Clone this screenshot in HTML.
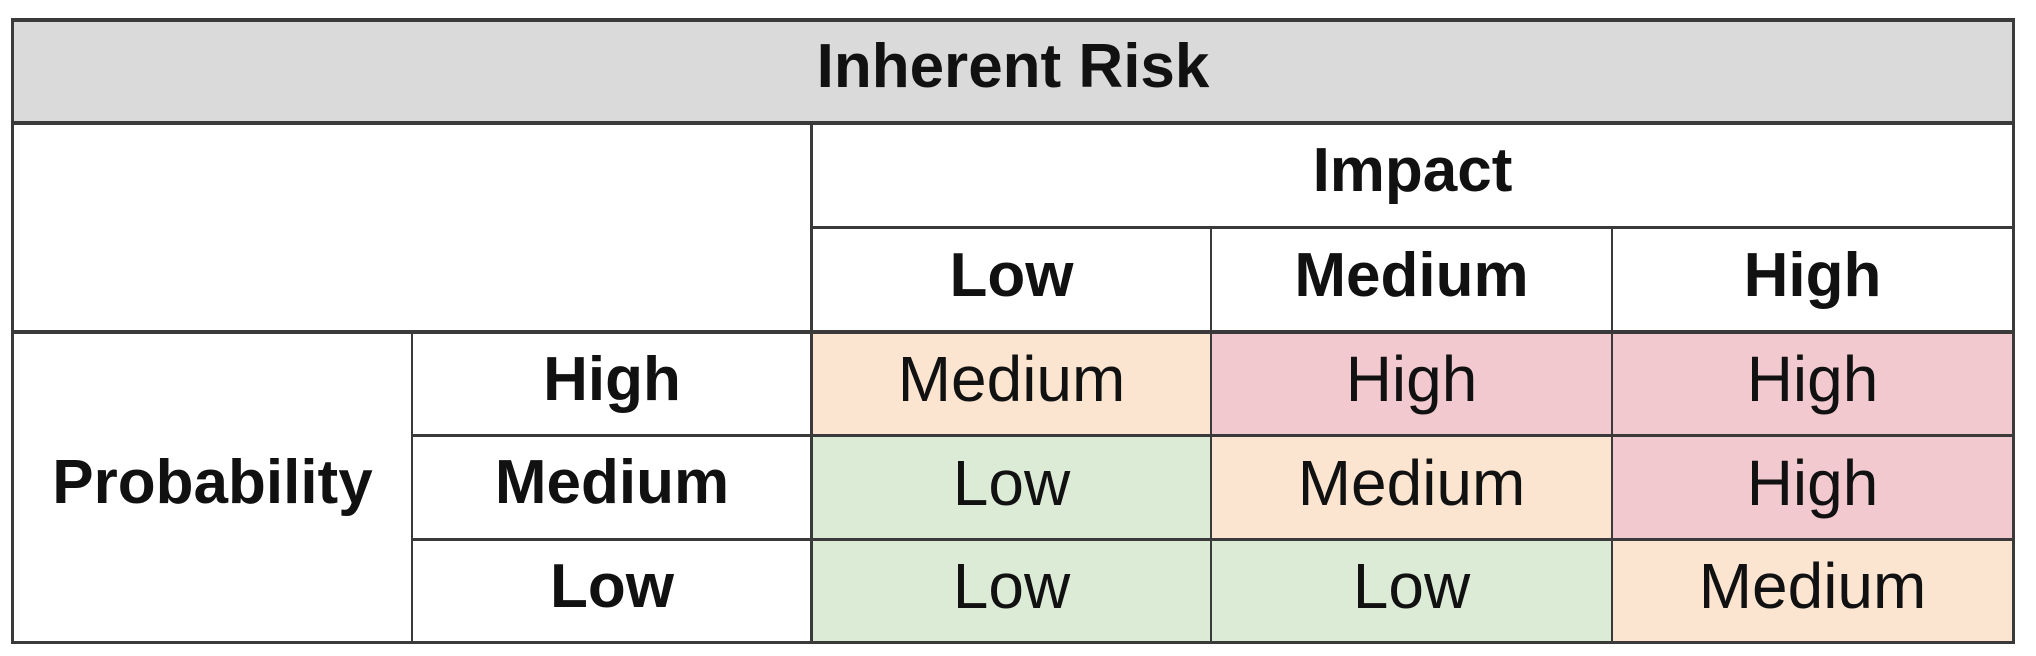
<!DOCTYPE html>
<html><head><meta charset="utf-8"><style>
body{margin:0;width:2036px;height:656px;background:#fff;position:relative;overflow:hidden;font-family:"Liberation Sans",Arial,sans-serif;}
.c{position:absolute;box-sizing:border-box;display:flex;align-items:center;justify-content:center;font-size:64px;color:#111;padding-bottom:10px;}
.b{font-weight:bold;font-size:62px;}
.h{position:absolute;background:#3a3a3a;}
</style></head><body>
<div class="c b" style="left:13px;top:19px;width:2000px;height:104px;background:#dadada;">Inherent Risk</div>
<div class="c b" style="left:812px;top:123px;width:1201px;height:105px;">Impact</div>
<div class="c b" style="left:812px;top:228px;width:399px;height:104px;">Low</div>
<div class="c b" style="left:1211px;top:228px;width:401px;height:104px;">Medium</div>
<div class="c b" style="left:1612px;top:228px;width:401px;height:104px;">High</div>
<div class="c b" style="left:13px;top:332px;width:399px;height:311px;">Probability</div>
<div class="c b" style="left:412px;top:332px;width:400px;height:104px;">High</div>
<div class="c b" style="left:412px;top:436px;width:400px;height:103px;">Medium</div>
<div class="c b" style="left:412px;top:539px;width:400px;height:104px;">Low</div>

<div class="c" style="left:812px;top:332px;width:399px;height:104px;background:#fbe5d1;">Medium</div>
<div class="c" style="left:1211px;top:332px;width:401px;height:104px;background:#f1c9cf;">High</div>
<div class="c" style="left:1612px;top:332px;width:401px;height:104px;background:#f1c9cf;">High</div>
<div class="c" style="left:812px;top:436px;width:399px;height:103px;background:#dcebd6;">Low</div>
<div class="c" style="left:1211px;top:436px;width:401px;height:103px;background:#fbe5d1;">Medium</div>
<div class="c" style="left:1612px;top:436px;width:401px;height:103px;background:#f1c9cf;">High</div>
<div class="c" style="left:812px;top:539px;width:399px;height:104px;background:#dcebd6;">Low</div>
<div class="c" style="left:1211px;top:539px;width:401px;height:104px;background:#dcebd6;">Low</div>
<div class="c" style="left:1612px;top:539px;width:401px;height:104px;background:#fbe5d1;">Medium</div>

<div class="h" style="left:11px;top:18px;width:2004px;height:4px;"></div>
<div class="h" style="left:11px;top:641px;width:2004px;height:3px;"></div>
<div class="h" style="left:11px;top:18px;width:3px;height:626px;"></div>
<div class="h" style="left:2012px;top:18px;width:3px;height:626px;"></div>
<div class="h" style="left:11px;top:121px;width:2004px;height:4px;"></div>
<div class="h" style="left:811px;top:226px;width:1204px;height:3px;"></div>
<div class="h" style="left:11px;top:330px;width:2004px;height:4px;"></div>
<div class="h" style="left:411px;top:434px;width:1604px;height:3px;"></div>
<div class="h" style="left:411px;top:538px;width:1604px;height:3px;"></div>
<div class="h" style="left:411px;top:330px;width:2px;height:314px;"></div>
<div class="h" style="left:810px;top:121px;width:3px;height:523px;"></div>
<div class="h" style="left:1210px;top:226px;width:2px;height:418px;"></div>
<div class="h" style="left:1611px;top:226px;width:2px;height:418px;"></div>
</body></html>
